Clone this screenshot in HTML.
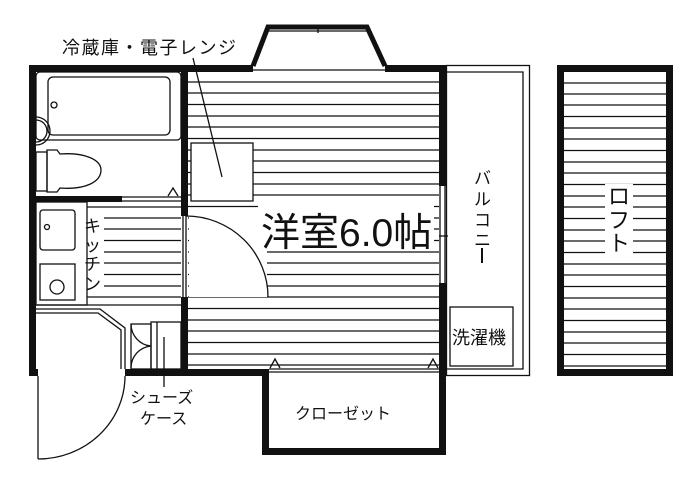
<!DOCTYPE html>
<html><head><meta charset="utf-8"><style>
html,body{margin:0;padding:0;background:#fff}
svg{display:block}
text{font-family:"Liberation Sans","Noto Sans CJK JP",sans-serif;fill:#111}
</style></head><body>
<svg width="700" height="489" viewBox="0 0 700 489" xmlns="http://www.w3.org/2000/svg">
<g stroke="#111" fill="none" stroke-width="1.3">
<g>
<line x1="188" y1="82" x2="439" y2="82"/><line x1="188" y1="93" x2="439" y2="93"/><line x1="188" y1="104.5" x2="439" y2="104.5"/><line x1="188" y1="116" x2="439" y2="116"/><line x1="188" y1="127" x2="439" y2="127"/><line x1="188" y1="138.5" x2="439" y2="138.5"/><line x1="188" y1="150" x2="439" y2="150"/><line x1="188" y1="161" x2="439" y2="161"/><line x1="188" y1="172.5" x2="439" y2="172.5"/><line x1="188" y1="184" x2="439" y2="184"/><line x1="188" y1="195" x2="439" y2="195"/><line x1="188" y1="206.5" x2="439" y2="206.5"/><line x1="188" y1="218" x2="439" y2="218"/><line x1="188" y1="229" x2="439" y2="229"/><line x1="188" y1="240.5" x2="439" y2="240.5"/><line x1="188" y1="252" x2="439" y2="252"/><line x1="188" y1="263" x2="439" y2="263"/><line x1="188" y1="274.5" x2="439" y2="274.5"/><line x1="188" y1="286" x2="439" y2="286"/><line x1="188" y1="297" x2="439" y2="297"/><line x1="188" y1="308.5" x2="439" y2="308.5"/><line x1="188" y1="320" x2="439" y2="320"/><line x1="188" y1="331" x2="439" y2="331"/><line x1="188" y1="342.5" x2="439" y2="342.5"/><line x1="188" y1="354" x2="439" y2="354"/><line x1="188" y1="365" x2="439" y2="365"/>
</g>
<g>
<line x1="87" y1="207" x2="181" y2="207"/><line x1="87" y1="218" x2="181" y2="218"/><line x1="87" y1="229" x2="181" y2="229"/><line x1="87" y1="240.5" x2="181" y2="240.5"/><line x1="87" y1="252" x2="181" y2="252"/><line x1="87" y1="263" x2="181" y2="263"/><line x1="87" y1="274.5" x2="181" y2="274.5"/><line x1="87" y1="286" x2="181" y2="286"/><line x1="87" y1="297" x2="181" y2="297"/><line x1="36" y1="305" x2="181" y2="305"/>
</g>
<g>
<line x1="564" y1="83" x2="666" y2="83"/><line x1="564" y1="94" x2="666" y2="94"/><line x1="564" y1="105" x2="666" y2="105"/><line x1="564" y1="116.5" x2="666" y2="116.5"/><line x1="564" y1="128" x2="666" y2="128"/><line x1="564" y1="139" x2="666" y2="139"/><line x1="564" y1="150.5" x2="666" y2="150.5"/><line x1="564" y1="162" x2="666" y2="162"/><line x1="564" y1="173" x2="666" y2="173"/><line x1="564" y1="184.5" x2="666" y2="184.5"/><line x1="564" y1="196" x2="666" y2="196"/><line x1="564" y1="207" x2="666" y2="207"/><line x1="564" y1="218.5" x2="666" y2="218.5"/><line x1="564" y1="230" x2="666" y2="230"/><line x1="564" y1="241" x2="666" y2="241"/><line x1="564" y1="252.5" x2="666" y2="252.5"/><line x1="564" y1="264" x2="666" y2="264"/><line x1="564" y1="275" x2="666" y2="275"/><line x1="564" y1="286.5" x2="666" y2="286.5"/><line x1="564" y1="298" x2="666" y2="298"/><line x1="564" y1="309" x2="666" y2="309"/><line x1="564" y1="320.5" x2="666" y2="320.5"/><line x1="564" y1="332" x2="666" y2="332"/><line x1="564" y1="343" x2="666" y2="343"/><line x1="564" y1="354.5" x2="666" y2="354.5"/><line x1="564" y1="366" x2="666" y2="366"/>
</g>
</g>
<rect x="258" y="203" width="176" height="48" fill="#fff"/>
<rect x="605" y="184" width="28" height="72" fill="#fff"/>
<rect x="82" y="212" width="22" height="84" fill="#fff"/>
<rect x="191" y="143" width="62" height="58" fill="#fff" stroke="#111" stroke-width="1.3"/>
<rect x="189" y="216" width="78" height="81" fill="#fff"/>
<g fill="#111">
<rect x="29" y="65" width="7" height="311"/>
<rect x="29" y="65" width="224" height="7"/>
<rect x="385" y="65" width="61" height="7"/>
<rect x="439" y="65" width="7" height="121"/>
<rect x="439" y="283" width="7" height="93"/>
<rect x="181" y="65" width="7" height="151"/>
<rect x="181" y="297" width="7" height="79"/>
<rect x="36" y="196" width="86" height="6"/>
<rect x="29" y="369" width="9" height="7"/>
<rect x="125" y="369" width="144" height="7"/>
<rect x="262" y="369" width="7" height="86"/>
<rect x="262" y="448" width="184" height="7"/>
<rect x="439" y="369" width="7" height="86"/>
<rect x="557" y="65" width="116" height="7"/>
<rect x="557" y="369" width="116" height="7"/>
<rect x="557" y="65" width="7" height="311"/>
<rect x="666" y="65" width="7" height="311"/>
</g>
<g stroke="#111" fill="none" stroke-width="1.3">
<polyline points="253,66 268,27 367,27 385,66" stroke-width="5"/>
<line x1="268" y1="31" x2="367" y2="31"/>
<line x1="318" y1="26" x2="318" y2="33"/>
<line x1="253" y1="70" x2="385" y2="70"/>
<line x1="440" y1="186" x2="440" y2="283"/><line x1="445" y1="186" x2="445" y2="283"/>
<line x1="439" y1="236" x2="448" y2="236"/>
<rect x="36" y="72" width="145" height="68" rx="4"/>
<rect x="48" y="77" width="122" height="58" rx="5"/>
<circle cx="54" cy="105" r="3"/>
<path d="M36,120 A11,11 0 0 1 36,142"/>
<path d="M36,117 A14,14 0 0 1 36,145"/>
<rect x="36" y="152" width="11" height="39"/>
<path d="M47,150 L57,150 L60,154 C85,152 101,160 101,170 C101,182 85,190 60,188 L57,192 L47,192 Z"/>
<line x1="122" y1="197" x2="181" y2="197"/><line x1="122" y1="201" x2="181" y2="201"/>
<path d="M168,196 L173,188 L178,196"/>
<rect x="36" y="202" width="51" height="103"/>
<rect x="40" y="210" width="35" height="40" rx="3"/>
<circle cx="47" cy="227" r="2.5"/>
<rect x="40" y="264" width="35" height="36"/>
<circle cx="57" cy="287" r="7"/>
<path d="M36,309 L100,309 L125,328 L125,369"/>
<path d="M36,313 L98,313 L121,330 L121,369"/>
<rect x="131" y="324" width="20" height="45"/>
<path d="M131,324 A22,22 0 0 0 151,346"/>
<path d="M151,346 A22,22 0 0 0 131,368"/>
<rect x="151" y="322" width="30" height="47"/>
<line x1="157" y1="322" x2="157" y2="369"/>
<line x1="164" y1="337" x2="164" y2="372"/>
<line x1="164" y1="376" x2="164" y2="387"/>
<line x1="38" y1="376" x2="38" y2="459"/>
<path d="M38,459 A87,83 0 0 0 125,376"/>
<line x1="183" y1="216" x2="183" y2="297"/><line x1="186" y1="216" x2="186" y2="297"/>
<path d="M186,216 A82,81 0 0 1 268,297"/>
<line x1="193" y1="58" x2="222" y2="177"/>
<line x1="269" y1="369" x2="439" y2="369"/><line x1="269" y1="372" x2="439" y2="372"/>
<path d="M270,368 L275,359 L280,368"/><path d="M428,368 L433,359 L438,368"/>
<rect x="446.5" y="65.5" width="83" height="310"/>
<polyline points="446,72 523,72 523,369 446,369"/>
<rect x="450" y="307" width="63" height="59"/>
<line x1="482" y1="248" x2="482" y2="263" stroke-width="2"/>
</g>
<text x="62" y="54" font-size="18" letter-spacing="1.5">冷蔵庫・電子レンジ</text>
<text x="261" y="246" font-size="39">洋室6.0帖</text>
<text x="84" y="232" font-size="17">キ</text>
<text x="84" y="251" font-size="17">ッ</text>
<text x="84" y="270" font-size="17">チ</text>
<text x="84" y="290" font-size="17">ン</text>
<text x="474" y="184" font-size="17">バ</text>
<text x="474" y="205" font-size="17">ル</text>
<text x="474" y="226" font-size="17">コ</text>
<text x="474" y="246" font-size="17">ニ</text>
<text x="608" y="204" font-size="22">ロ</text>
<text x="608" y="228" font-size="22">フ</text>
<text x="608" y="251" font-size="22">ト</text>
<text x="452" y="344" font-size="18">洗濯機</text>
<text x="130" y="403" font-size="16">シューズ</text>
<text x="140" y="424" font-size="16">ケース</text>
<text x="295" y="419" font-size="16">クローゼット</text>
</svg>
</body></html>
